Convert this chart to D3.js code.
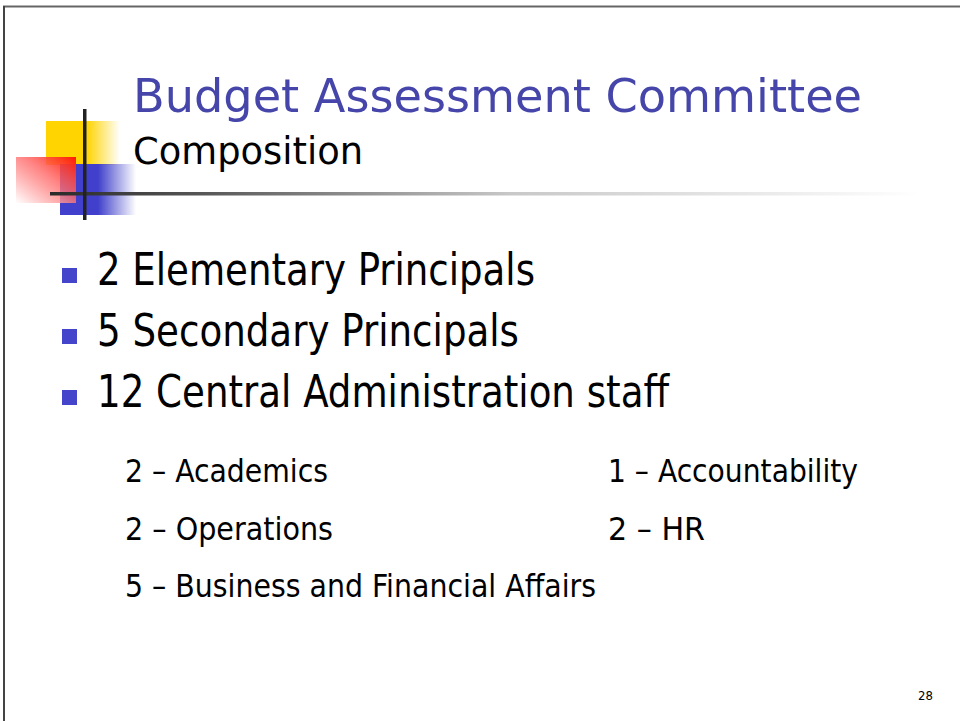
<!DOCTYPE html>
<html>
<head>
<meta charset="utf-8">
<script src="https://cdn.jsdelivr.net/npm/d3@7"></script>
<style>
  html, body { margin: 0; padding: 0; background: #fff; }
  svg text { font-family: "DejaVu Sans Condensed", "DejaVu Sans", sans-serif; }
</style>
</head>
<body>
<div class="slide"></div>
<script>
// slide content
var titleText = "Budget Assessment Committee";
var subtitleText = "Composition";
var bulletCounts = [2, 5, 12];
var bulletLabels = ["Elementary Principals", "Secondary Principals", "Central Administration staff"];
var staffCounts = [2, 1, 2, 2, 5];
var staffLabels = ["Academics", "Accountability", "Operations", "HR", "Business and Financial Affairs"];
var staffCols = [0, 1, 0, 1, 0];
var staffRows = [0, 0, 1, 1, 2];
var pageNumber = "28";

var width = 960, height = 721;

var svg = d3.select(".slide").append("svg")
  .attr("width", width)
  .attr("height", height);

var defs = svg.append("defs");

var gY = defs.append("linearGradient").attr("id", "gYellow");
gY.append("stop").attr("offset", "0.55").attr("stop-color", "#FFD400");
gY.append("stop").attr("offset", "1").attr("stop-color", "#FFD400").attr("stop-opacity", 0);

var gB = defs.append("linearGradient").attr("id", "gBlue");
gB.append("stop").attr("offset", "0.5").attr("stop-color", "#4040CC");
gB.append("stop").attr("offset", "1").attr("stop-color", "#4040CC").attr("stop-opacity", 0);

var gR = defs.append("linearGradient").attr("id", "gRed")
  .attr("x1", 1).attr("y1", 0).attr("x2", 0).attr("y2", 1);
gR.append("stop").attr("offset", "0").attr("stop-color", "#FF1A00");
gR.append("stop").attr("offset", "0.45").attr("stop-color", "#FF6A6A").attr("stop-opacity", 0.8);
gR.append("stop").attr("offset", "1").attr("stop-color", "#FFFFFF").attr("stop-opacity", 0.9);

var gL = defs.append("linearGradient").attr("id", "gLine");
gL.append("stop").attr("offset", "0").attr("stop-color", "#2a2a2a");
gL.append("stop").attr("offset", "0.17").attr("stop-color", "#555555");
gL.append("stop").attr("offset", "0.53").attr("stop-color", "#c8c8c8");
gL.append("stop").attr("offset", "1").attr("stop-color", "#ffffff");

// slide frame
svg.append("line").attr("x1", 3).attr("x2", width).attr("y1", 6.5).attr("y2", 6.5)
  .attr("stroke", "#666").attr("stroke-width", 2);
svg.append("line").attr("x1", 4).attr("x2", 4).attr("y1", 6).attr("y2", height)
  .attr("stroke", "#444").attr("stroke-width", 2);

// logo
var logo = svg.append("g").attr("class", "logo");
logo.append("rect").attr("x", 46).attr("y", 121).attr("width", 74).attr("height", 44)
  .style("fill", "url(#gYellow)");
logo.append("rect").attr("x", 60).attr("y", 164).attr("width", 76).attr("height", 51)
  .style("fill", "url(#gBlue)");
logo.append("rect").attr("x", 16).attr("y", 157).attr("width", 60).attr("height", 46)
  .style("fill", "url(#gRed)");
logo.append("rect").attr("x", 50).attr("y", 192).attr("width", 870).attr("height", 3.5)
  .style("fill", "url(#gLine)");
logo.append("rect").attr("x", 83).attr("y", 109).attr("width", 3.5).attr("height", 111)
  .style("fill", "#222");

// title
svg.append("text")
  .attr("x", 133).attr("y", 112)
  .attr("textLength", 729).attr("lengthAdjust", "spacingAndGlyphs")
  .style("font-size", "47px").style("fill", "#4646AA")
  .text(titleText);

svg.append("text")
  .attr("x", 133).attr("y", 164)
  .attr("textLength", 230).attr("lengthAdjust", "spacingAndGlyphs")
  .style("font-size", "37px").style("fill", "#000")
  .text(subtitleText);

// main bullets
var yBullet = d3.scaleLinear().domain([0, 1]).range([285, 346]);
var bulletWidths = [438, 422, 572];

var bullets = svg.selectAll(".bullet")
  .data(bulletCounts.map((c, i) => ({count: c, label: bulletLabels[i], w: bulletWidths[i]})))
  .enter().append("g")
  .attr("class", "bullet")
  .attr("transform", (d, i) => `translate(0,${yBullet(i)})`);

bullets.append("rect")
  .attr("x", 62).attr("y", -17).attr("width", 15).attr("height", 15)
  .style("fill", "#4545CC");

bullets.append("text")
  .attr("x", 97)
  .attr("textLength", d => d.w).attr("lengthAdjust", "spacingAndGlyphs")
  .style("font-size", "44px").style("fill", "#000")
  .text(d => d.count + " " + d.label);

// staff breakdown
var xStaff = d3.scaleOrdinal().domain([0, 1]).range([125, 608]);
var yStaff = d3.scaleLinear().domain([0, 1]).range([482, 539.5]);
var staffWidths = [203, 250, 208, 97, 471];

svg.selectAll(".staff")
  .data(staffCounts.map((c, i) => ({count: c, label: staffLabels[i], col: staffCols[i], row: staffRows[i], w: staffWidths[i]})))
  .enter().append("text")
  .attr("class", "staff")
  .attr("x", d => xStaff(d.col))
  .attr("y", d => yStaff(d.row))
  .attr("textLength", d => d.w).attr("lengthAdjust", "spacingAndGlyphs")
  .style("font-size", "32px").style("fill", "#000")
  .text(d => d.count + " \u2013 " + d.label);

// page number
svg.append("text")
  .attr("x", 933).attr("y", 700)
  .attr("text-anchor", "end")
  .style("font-size", "13px").style("fill", "#000")
  .text(pageNumber);
</script>
</body>
</html>
